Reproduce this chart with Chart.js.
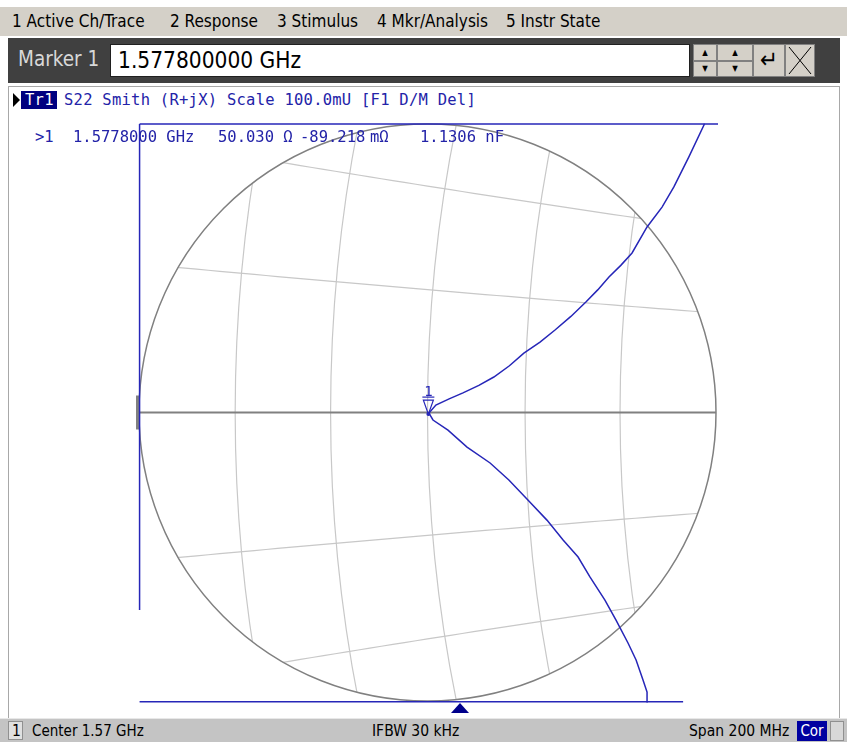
<!DOCTYPE html>
<html>
<head>
<meta charset="utf-8">
<script src="https://cdn.jsdelivr.net/npm/chart.js@4.4.1/dist/chart.umd.min.js"></script>
<style>
  body { margin: 0; width: 847px; height: 742px; position: relative; overflow: hidden; background: #fff;
         font-family: "DejaVu Sans Condensed", "DejaVu Sans", sans-serif; }
  .abs { position: absolute; white-space: pre; }
  #menu { left: 0; top: 7px; width: 847px; height: 29px; background: #d4d0c8; }
  #menu span { position: absolute; top: 4px; font-size: 17px; color: #000; }
  #mbar { left: 8px; top: 38px; width: 832px; height: 45px; background: #404040; }
  .btn { position: absolute; background: #d4d0c8; border: 1px solid #808080; box-sizing: border-box; }
  .mono { font-family: "DejaVu Sans Mono", monospace; font-size: 15.5px; letter-spacing: 0.25px; color: #2323a8; line-height: 18px; }
  .ro { top: 128px; letter-spacing: 0; }
  #status { left: 0; top: 718px; width: 847px; height: 24px; background: #c4c4c4; border-top: 1px solid #e8e8e8; }
  #status span { position: absolute; top: 3px; font-size: 15.5px; color: #000; }
</style>
</head>
<body>
<div id="menu" class="abs">
  <span style="left:12px">1 Active Ch/Trace</span>
  <span style="left:170px">2 Response</span>
  <span style="left:277px">3 Stimulus</span>
  <span style="left:377px">4 Mkr/Analysis</span>
  <span style="left:506px">5 Instr State</span>
</div>
<div id="mbar" class="abs">
  <span class="abs" style="left:10px;top:9px;font-size:20.5px;color:#d8d8d8">Marker 1</span>
  <div class="abs" style="left:102px;top:6px;width:580px;height:33px;background:#fff;border:1px solid #202020;box-sizing:border-box">
    <span class="abs" style="left:7px;top:2px;font-size:22.5px;color:#000">1.577800000 GHz</span>
  </div>
  <div class="btn" style="left:685px;top:6px;width:24px;height:17px;font-size:8px;text-align:center;line-height:15px">▲</div>
  <div class="btn" style="left:685px;top:23px;width:24px;height:16px;font-size:8px;text-align:center;line-height:14px">▼</div>
  <div class="btn" style="left:709px;top:6px;width:36px;height:17px;font-size:8px;text-align:center;line-height:15px">▲</div>
  <div class="btn" style="left:709px;top:23px;width:36px;height:16px;font-size:8px;text-align:center;line-height:14px">▼</div>
  <div class="btn" style="left:745px;top:6px;width:32px;height:33px;font-size:24px;text-align:center;line-height:30px">↵</div>
  <div class="btn" style="left:777px;top:6px;width:30px;height:33px">
    <svg width="28" height="31" style="position:absolute;left:0;top:0"><line x1="3" y1="2" x2="25" y2="29" stroke="#000"/><line x1="25" y1="2" x2="3" y2="29" stroke="#000"/></svg>
  </div>
</div>
<div class="abs" style="left:8px;top:86px;width:830px;height:631px;border:1px solid #a8a8a8;background:#fff"></div>

<canvas id="smith" class="abs" width="660" height="606" style="left:100px;top:110px"></canvas>

<div class="abs" style="left:13px;top:93px;width:0;height:0;border-top:7px solid transparent;border-bottom:7px solid transparent;border-left:7px solid #000"></div>
<div class="abs mono" style="left:21px;top:91px;background:#000080;color:#fff;padding:0 3px 0 4px">Tr1</div>
<div class="abs mono" style="left:64px;top:91px">S22 Smith (R+jX) Scale 100.0mU [F1 D/M Del]</div>
<div class="abs mono ro" style="left:35px">&gt;1</div>
<div class="abs mono ro" style="left:73px">1.5778000 GHz</div>
<div class="abs mono ro" style="left:218px">50.030 Ω</div>
<div class="abs mono ro" style="left:300px">-89.218</div>
<div class="abs mono ro" style="left:370px">mΩ</div>
<div class="abs mono ro" style="left:420px">1.1306 nF</div>

<div class="abs" style="left:451px;top:703px;width:0;height:0;border-left:9px solid transparent;border-right:9px solid transparent;border-bottom:10px solid #00008b"></div>

<div id="status" class="abs">
  <div class="abs" style="left:8px;top:2px;width:15px;height:19px;background:#e0e0e0;border:1px solid #909090;box-sizing:border-box"></div>
  <span style="left:12px">1</span>
  <span style="left:32px;font-size:15px">Center 1.57 GHz</span>
  <span style="left:372px">IFBW 30 kHz</span>
  <span style="left:689px">Span 200 MHz</span>
  <div class="abs" style="left:797px;top:2px;width:30px;height:20px;background:#0000a0;color:#fff;font-size:15px;text-align:center;line-height:20px">Cor</div>
  <div class="abs" style="left:830px;top:2px;width:14px;height:20px;background:#d8d8d8;border:1px solid #909090;box-sizing:border-box"></div>
</div>

<script>
// Smith chart grid: constant resistance and reactance circles (normalised)
const resistanceGrid = [0.875, 0.935, 1, 1.07, 1.143];
const reactanceGrid = [0.085, 0.156, -0.085, -0.156];
const fullScale = 0.1; // 100.0 mU

// S22 trace, real and imaginary parts of reflection coefficient
const traceRe = [0.0886, 0.0764, 0.0761, 0.0747, 0.0723, 0.0695, 0.0653, 0.0615, 0.0563, 0.0522, 0.0470,
  0.0414, 0.0348, 0.0282, 0.0217, 0.0137, 0.0071, 0.0019, 0.0005,
  0.0029, 0.0075, 0.0123, 0.0178, 0.0230, 0.0284, 0.0334, 0.0390, 0.0442, 0.0497, 0.0549, 0.0590, 0.0629,
  0.0670, 0.0709, 0.0761, 0.0813, 0.0854, 0.0906, 0.0960, 0.1007];
const traceIm = [-0.1003, -0.1003, -0.0969, -0.0927, -0.0858, -0.0799, -0.0719, -0.0650, -0.0570, -0.0501, -0.0442,
  -0.0373, -0.0303, -0.0234, -0.0175, -0.0120, -0.0061, -0.0026, -0.0002,
  0.0026, 0.0047, 0.0068, 0.0094, 0.0123, 0.0162, 0.0206, 0.0244, 0.0286, 0.0333, 0.0383, 0.0425, 0.0470,
  0.0510, 0.0553, 0.0643, 0.0712, 0.0782, 0.0886, 0.1000, 0.1000];

// out of range parts of the trace, clamped to the display edge
const leftEdgeRe = [-0.0998, -0.0998];
const leftEdgeIm = [-0.0685, 0.1000];
const topEdgeRe = [-0.0998, 0.0960];
const topEdgeIm = [0.1000, 0.1000];
const bottomEdgeRe = [-0.0998, 0.0764];
const bottomEdgeIm = [-0.1003, -0.1003];

// marker 1: 50.030 - j0.089218 ohm
const markerRe = 0.0003;
const markerIm = -0.0009;
const markerLabel = "1";

// page geometry of the canvas
const CANVAS_LEFT = 100, CANVAS_TOP = 110, CANVAS_W = 660, CANVAS_H = 606;
const CENTER_X = 427.5, CENTER_Y = 412.5, RADIUS_PX = 288.5;
const PX_PER_UNIT = RADIUS_PX / fullScale;

function pts(re, im) {
  return re.map((v, i) => ({ x: v, y: im[i] }));
}

const traceColor = "#2626b8";

const smithGrid = {
  id: "smithGrid",
  beforeDatasetsDraw(chart) {
    const ctx = chart.ctx;
    const xs = chart.scales.x, ys = chart.scales.y;
    const cx = xs.getPixelForValue(0), cy = ys.getPixelForValue(0);
    const R = xs.getPixelForValue(fullScale) - cx;
    const k = R / fullScale;
    ctx.save();
    ctx.beginPath();
    ctx.arc(cx, cy, R, 0, Math.PI * 2);
    ctx.clip();
    ctx.strokeStyle = "#c8c8c8";
    ctx.lineWidth = 1.2;
    resistanceGrid.forEach((r) => {
      ctx.beginPath();
      ctx.arc(xs.getPixelForValue(r / (1 + r)), cy, k / (1 + r), 0, Math.PI * 2);
      ctx.stroke();
    });
    // reactance arcs have huge radii, trace them near the centre only
    reactanceGrid.forEach((x) => {
      ctx.beginPath();
      for (let i = 0; i <= 60; i++) {
        const gx = -0.12 + i * 0.004;
        const gy = 1 / x - Math.sign(x) * Math.sqrt(1 / (x * x) - (gx - 1) * (gx - 1));
        const px = xs.getPixelForValue(gx), py = ys.getPixelForValue(gy);
        if (i === 0) ctx.moveTo(px, py); else ctx.lineTo(px, py);
      }
      ctx.stroke();
    });
    ctx.restore();

    ctx.save();
    ctx.strokeStyle = "#808080";
    ctx.lineWidth = 1.5;
    ctx.beginPath();
    ctx.arc(cx, cy, R, 0, Math.PI * 2);
    ctx.stroke();
    ctx.lineWidth = 2;
    ctx.beginPath();
    ctx.moveTo(cx - R, cy);
    ctx.lineTo(cx + R, cy);
    ctx.stroke();
    ctx.lineWidth = 3;
    ctx.beginPath();
    ctx.moveTo(cx - R - 1.5, cy - 17);
    ctx.lineTo(cx - R - 1.5, cy + 17);
    ctx.stroke();
    ctx.restore();
  },
  afterDatasetsDraw(chart) {
    const ctx = chart.ctx;
    const px = chart.scales.x.getPixelForValue(markerRe);
    const py = chart.scales.y.getPixelForValue(markerIm);
    ctx.save();
    ctx.strokeStyle = traceColor;
    ctx.fillStyle = traceColor;
    ctx.lineWidth = 1.2;
    ctx.beginPath();
    ctx.moveTo(px - 5, py - 15);
    ctx.lineTo(px + 5, py - 15);
    ctx.lineTo(px, py - 1);
    ctx.closePath();
    ctx.stroke();
    ctx.beginPath();
    ctx.moveTo(px - 6, py - 18);
    ctx.lineTo(px + 6, py - 18);
    ctx.stroke();
    ctx.beginPath();
    ctx.arc(px, py - 1, 2, 0, Math.PI * 2);
    ctx.fill();
    ctx.font = "14px 'DejaVu Sans Mono'";
    ctx.textAlign = "center";
    ctx.textBaseline = "alphabetic";
    ctx.fillText(markerLabel, px, py - 19);
    ctx.restore();
  }
};

const lineSet = (data) => ({
  data: data,
  showLine: true,
  borderColor: traceColor,
  borderWidth: 1.5,
  pointRadius: 0,
  tension: 0,
  clip: 4,
});

new Chart(document.getElementById("smith"), {
  type: "scatter",
  data: {
    datasets: [
      lineSet(pts(traceRe, traceIm)),
      lineSet(pts(leftEdgeRe, leftEdgeIm)),
      lineSet(pts(topEdgeRe, topEdgeIm)),
      lineSet(pts(bottomEdgeRe, bottomEdgeIm)),
    ],
  },
  options: {
    responsive: false,
    animation: false,
    layout: { padding: 0 },
    scales: {
      x: {
        type: "linear",
        display: false,
        min: (CANVAS_LEFT - CENTER_X) / PX_PER_UNIT,
        max: (CANVAS_LEFT + CANVAS_W - CENTER_X) / PX_PER_UNIT,
      },
      y: {
        type: "linear",
        display: false,
        min: (CENTER_Y - CANVAS_TOP - CANVAS_H) / PX_PER_UNIT,
        max: (CENTER_Y - CANVAS_TOP) / PX_PER_UNIT,
      },
    },
    plugins: {
      legend: { display: false },
      tooltip: { enabled: false },
    },
  },
  plugins: [smithGrid],
});
</script>
</body>
</html>
